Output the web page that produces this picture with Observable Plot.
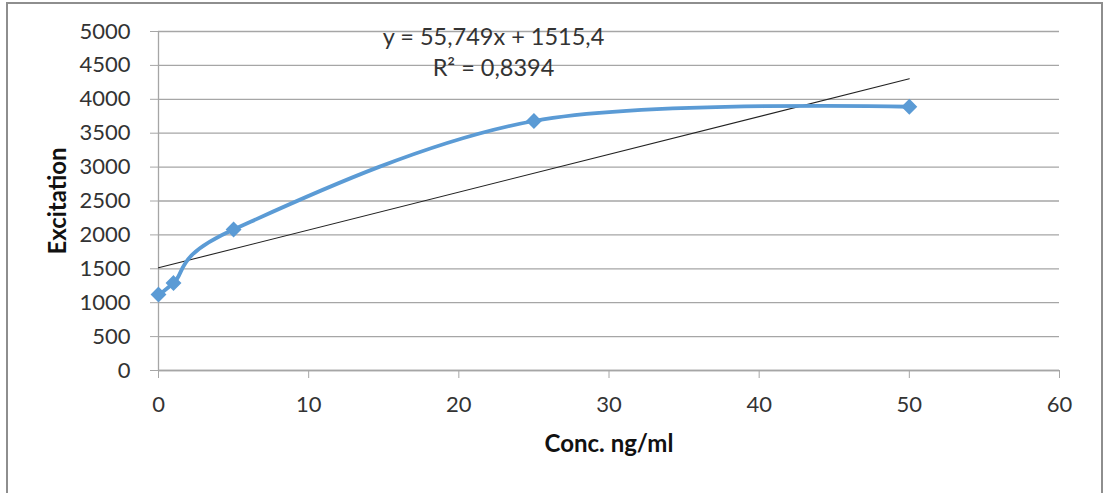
<!DOCTYPE html>
<html>
<head>
<meta charset="utf-8">
<script src="https://cdn.jsdelivr.net/npm/d3@7"></script>
<script src="https://cdn.jsdelivr.net/npm/@observablehq/plot@0.6"></script>
<style>
  html, body { margin: 0; padding: 0; background: #fff; }
  #wrap { position: relative; width: 1107px; height: 493px; overflow: hidden; }
  #frame { position: absolute; left: 6px; top: 2px; width: 1097px; height: 520px; border: 2px solid #8e8e8e; box-sizing: border-box; pointer-events: none; }
  #chart { position: absolute; left: 0; top: 0; }
</style>
</head>
<body>
<div id="wrap"><div id="chart"></div><div id="frame"></div></div>
<script>
// Data
const conc = [0, 1, 5, 25, 50];
const excitation = [1120, 1290, 2080, 3680, 3890];
const yTicks = [0, 500, 1000, 1500, 2000, 2500, 3000, 3500, 4000, 4500, 5000];
const xTicks = [0, 10, 20, 30, 40, 50, 60];
const slope = 55.749;
const intercept = 1515.4;
const trendRange = [0, 50];
const equationText = "y = 55,749x + 1515,4";
const r2Text = "R² = 0,8394";
const xTitle = "Conc. ng/ml";
const yTitle = "Excitation";

const points = conc.map((x, i) => ({x, y: excitation[i]}));
const trend = trendRange.map(x => ({x, y: slope * x + intercept}));

const font = "Lato, 'Open Sans', sans-serif";
const blue = "#5b9bd5";
const grid = "#a6a6a6";

const chart = Plot.plot({
  width: 1107,
  height: 493,
  marginLeft: 158,
  marginRight: 48,
  marginTop: 31,
  marginBottom: 123,
  style: {fontFamily: font, fontSize: "22px", color: "#222", background: "transparent"},
  x: {domain: [0, 60], ticks: xTicks},
  y: {domain: [0, 5000], ticks: yTicks},
  marks: [
    Plot.gridY(yTicks, {stroke: grid, strokeOpacity: 1, strokeWidth: 1.3}),
    Plot.ruleX([0], {stroke: grid, strokeWidth: 1.3}),
    Plot.axisY({ticks: yTicks, tickSize: 8, tickPadding: 20, stroke: grid, label: null, tickFormat: d => String(d), fill: "#333"}),
    Plot.axisX({ticks: xTicks, tickSize: 8, tickPadding: 18, stroke: grid, label: null, fill: "#333"}),
    Plot.ruleY([0], {stroke: grid, strokeWidth: 1.3}),
    Plot.line(trend, {x: "x", y: "y", stroke: "#222", strokeWidth: 1.1}),
    Plot.line(points, {x: "x", y: "y", stroke: blue, strokeWidth: 3.8, curve: "cardinal"}),
    Plot.dot(points, {x: "x", y: "y", symbol: "diamond2", r: 6.2, fill: blue, stroke: blue}),
    Plot.text([xTitle], {frameAnchor: "bottom", dy: 81, text: d => d, fontWeight: "bold", fontSize: 24, fill: "#111"}),
    Plot.text([yTitle], {frameAnchor: "left", textAnchor: "middle", dx: -100, rotate: -90, text: d => d, fontWeight: "bold", fontSize: 24, fill: "#111"}),
    Plot.text([equationText], {frameAnchor: "top-left", textAnchor: "middle", dx: 335, dy: -3, text: d => d, fontSize: 23.5, fill: "#333"}),
    Plot.text([r2Text], {frameAnchor: "top-left", textAnchor: "middle", dx: 335, dy: 28, text: d => d, fontSize: 23.5, fill: "#333"})
  ]
});
document.getElementById("chart").appendChild(chart);
</script>
</body>
</html>
